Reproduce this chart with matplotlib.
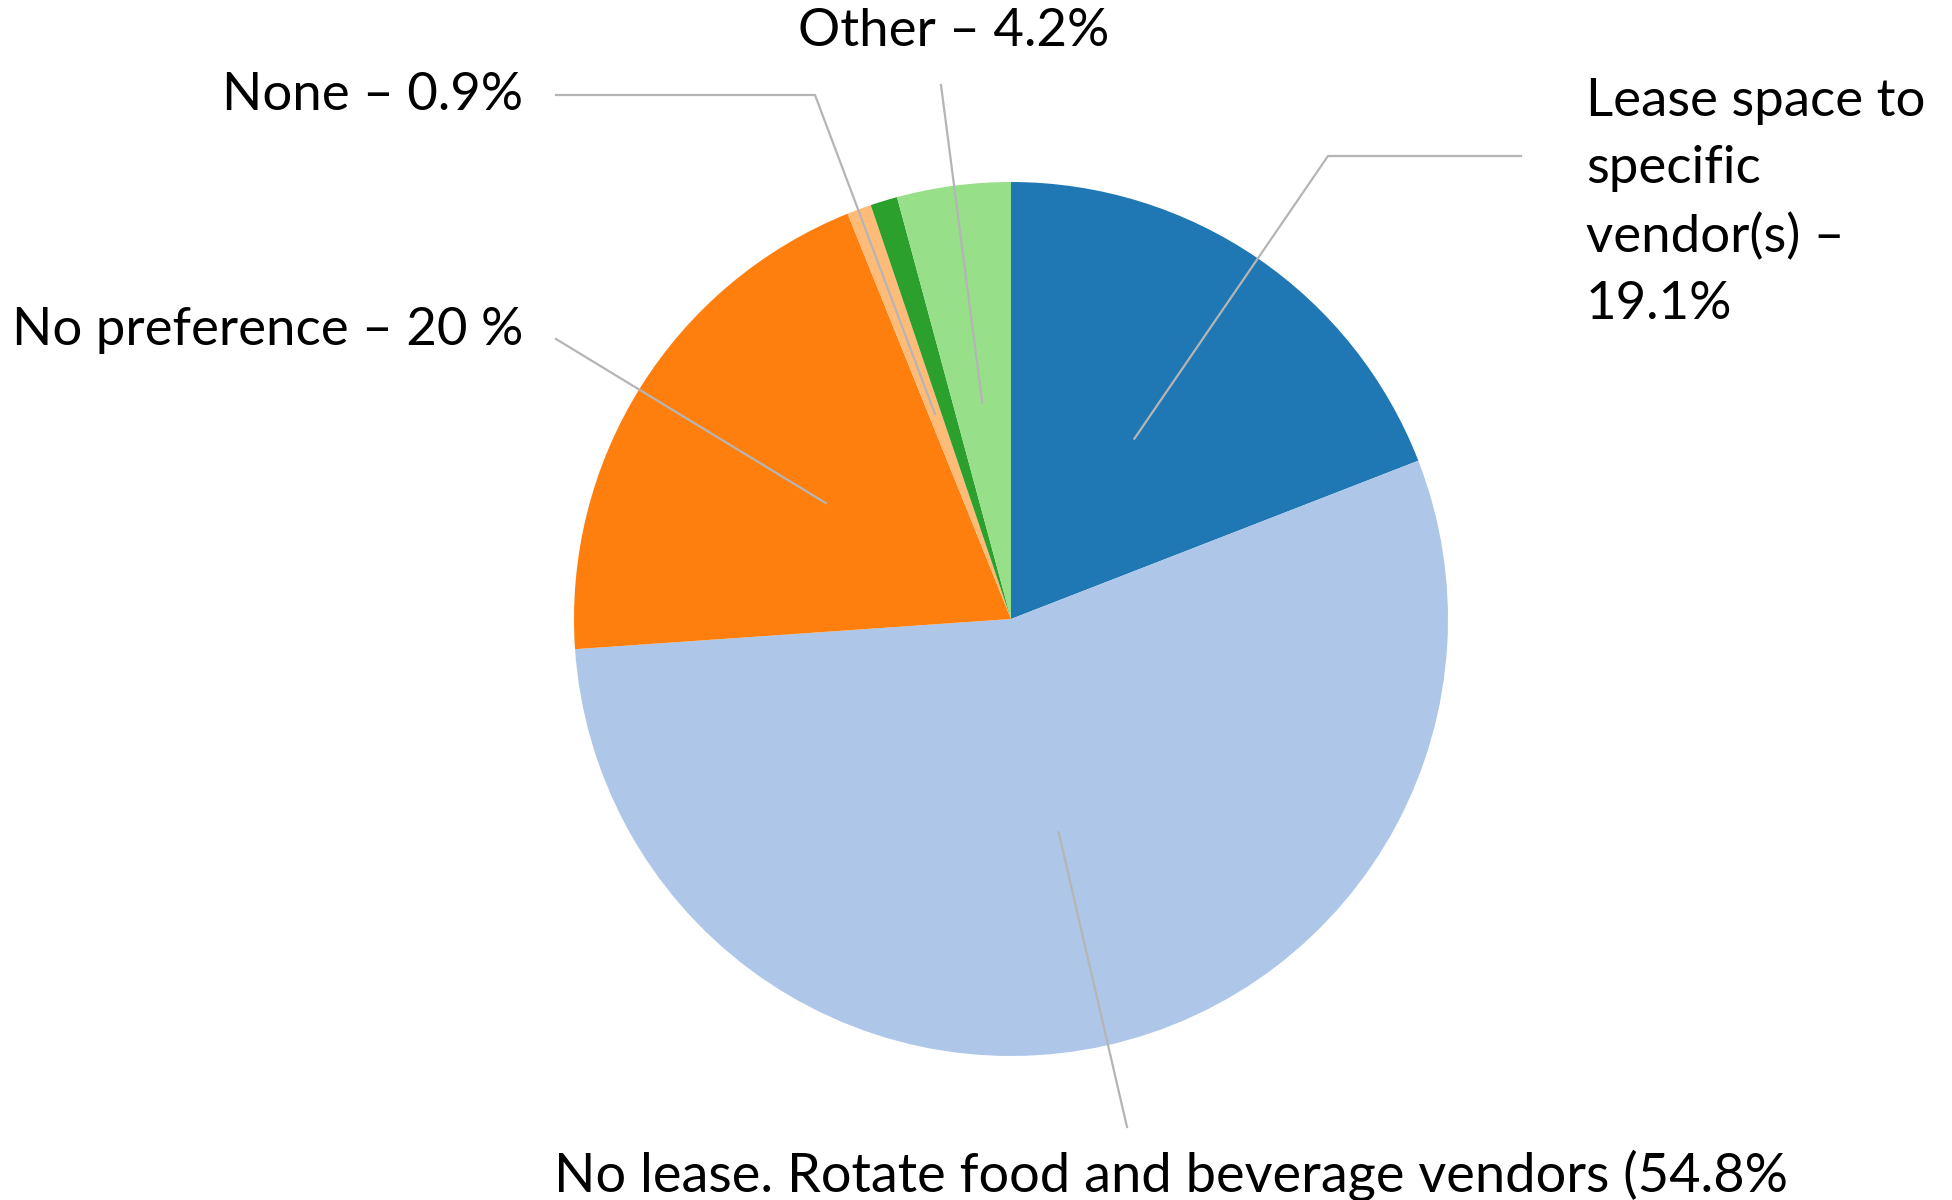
import matplotlib
matplotlib.use("Agg")
import matplotlib.pyplot as plt
import numpy as np

# ---- data ----
categories = ["Lease space to specific vendor(s)", "No lease. Rotate food and beverage vendors",
              "No preference", "None", "(unlabeled)", "Other"]
values = [19.1, 54.8, 20.0, 0.9, 1.0, 4.2]
label_texts = ["Lease space to\nspecific\nvendor(s) \u2013\n19.1%",
               "No lease. Rotate food and beverage vendors (54.8%",
               "No preference \u2013 20 %",
               "None \u2013 0.9%",
               None,
               "Other \u2013 4.2%"]
colors = ["#1f77b4", "#aec7e8", "#ff7f0e", "#ffbb78", "#2ca02c", "#98df8a"]

W, H = 1952, 1200
CX, CY, R = 1011, 619, 437  # pixel centre and radius of pie

plt.rcParams['font.family'] = ['Lato', 'DejaVu Sans']
fig = plt.figure(figsize=(W / 100, H / 100), dpi=100)
ax = fig.add_axes([0, 0, 1, 1])
ax.axis("off")


def P(x, y):
    """pixel (from top-left) -> data coords"""
    return ((x - CX) / R, (CY - y) / R)


wedges, _ = ax.pie(values, colors=colors, startangle=90, counterclock=False,
                   radius=1.0, wedgeprops=dict(linewidth=0))
ax.set_xlim(-CX / R, (W - CX) / R)
ax.set_ylim(-(H - CY) / R, CY / R)
ax.set_aspect('auto')

lc = "#b5b5b5"
lw = 1.6
fs = 38


def anchor(w, r=0.5):
    a = np.deg2rad((w.theta1 + w.theta2) / 2)
    return (r * np.cos(a), r * np.sin(a))


# Lease space (blue)
s = anchor(wedges[0])
p1 = P(1328, 156); p2 = P(1521, 156)
ax.plot([s[0], p1[0], p2[0]], [s[1], p1[1], p2[1]], color=lc, lw=lw)
ax.text(*P(1586, 203), label_texts[0], fontsize=fs, ha="left", va="center", linespacing=1.52)

# No lease (light blue)
s = anchor(wedges[1])
p1 = P(1127, 1127)
ax.plot([s[0], p1[0]], [s[1], p1[1]], color=lc, lw=lw)
ax.text(*P(1171, 1175), label_texts[1], fontsize=39, ha="center", va="center")

# No preference (orange)
s = anchor(wedges[2])
p1 = P(556, 339)
ax.plot([s[0], p1[0]], [s[1], p1[1]], color=lc, lw=lw)
ax.text(*P(523, 331), label_texts[2], fontsize=fs, ha="right", va="center")

# None (light orange)
s = anchor(wedges[3])
p1 = P(815, 95); p2 = P(556, 95)
ax.plot([s[0], p1[0], p2[0]], [s[1], p1[1], p2[1]], color=lc, lw=lw)
ax.text(*P(523, 95), label_texts[3], fontsize=fs, ha="right", va="center")

# Other (light green)
s = anchor(wedges[5])
p1 = P(941, 85)
ax.plot([s[0], p1[0]], [s[1], p1[1]], color=lc, lw=lw)
ax.text(*P(954, 31), label_texts[5], fontsize=fs, ha="center", va="center")

fig.savefig("out.png", dpi=100)
